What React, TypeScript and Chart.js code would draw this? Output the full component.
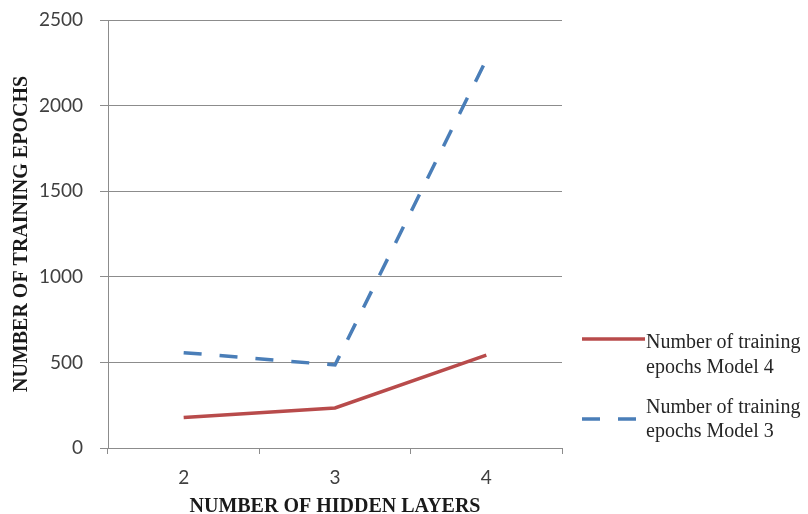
import React, { useEffect, useRef } from "react";
import { Chart, registerables } from "chart.js";

Chart.register(...registerables);

const categories = ["2", "3", "4"];
const model4Epochs = [178, 234, 543];
const model3Epochs = [557, 485, 2268];
const seriesLabels = [
  ["Number of training", "epochs Model 4"],
  ["Number of training", "epochs Model 3"],
];
const yTicks = [0, 500, 1000, 1500, 2000, 2500];

const RED = "#b84b4b";
const BLUE = "#4a7eb8";

const legendPlugin = {
  id: "sideLegend",
  afterDraw(chart: any) {
    const { ctx, chartArea } = chart;
    const x0 = chartArea.right + 20;
    const lineLen = 63;
    const items = [
      { ds: 0, lineY: 339, textY: [343, 368] },
      { ds: 1, lineY: 419, textY: [408, 432] },
    ];
    ctx.save();
    items.forEach((it) => {
      const ds = chart.data.datasets[it.ds];
      ctx.strokeStyle = ds.borderColor;
      ctx.lineWidth = ds.borderWidth;
      ctx.setLineDash(ds.borderDash || []);
      ctx.lineCap = "butt";
      ctx.beginPath();
      ctx.moveTo(x0, it.lineY);
      ctx.lineTo(x0 + lineLen, it.lineY);
      ctx.stroke();
      ctx.setLineDash([]);
      ctx.fillStyle = "#262626";
      ctx.font = "20px 'Liberation Serif'";
      ctx.textBaseline = "middle";
      ctx.textAlign = "left";
      const lines: string[] = ds.legendLines;
      lines.forEach((t, i) => ctx.fillText(t, x0 + lineLen + 1, it.textY[i]));
    });
    ctx.restore();
  },
};

export default function App() {
  const ref = useRef<HTMLCanvasElement | null>(null);
  useEffect(() => {
    if (!ref.current) return;
    const chart = new Chart(ref.current, {
      type: "line",
      data: {
        labels: categories,
        datasets: [
          {
            label: seriesLabels[0].join(" "),
            legendLines: seriesLabels[0],
            data: model4Epochs,
            borderColor: RED,
            borderWidth: 3.5,
            pointRadius: 0,
            tension: 0,
          } as any,
          {
            label: seriesLabels[1].join(" "),
            legendLines: seriesLabels[1],
            data: model3Epochs,
            borderColor: BLUE,
            borderWidth: 3.5,
            borderDash: [18, 18],
            pointRadius: 0,
            tension: 0,
          } as any,
        ],
      },
      options: {
        animation: false,
        responsive: false,
        layout: { padding: { top: 0, right: 246, left: 0, bottom: 0 } },
        plugins: { legend: { display: false }, tooltip: { enabled: false } },
        scales: {
          x: {
            offset: true,
            grid: {
              offset: true,
              drawOnChartArea: false,
              drawTicks: true,
              tickLength: 6,
              color: "#8c8c8c",
            },
            border: { color: "#8c8c8c" },
            ticks: {
              color: "#404040",
              font: { family: "Lato", size: 19 },
              padding: 12,
            },
            title: {
              display: true,
              text: "NUMBER OF HIDDEN LAYERS",
              color: "#1a1a1a",
              font: { family: "Liberation Serif", size: 20, weight: "bold" },
              padding: { top: 0, bottom: -5 },
            },
            afterFit(scale: any) {
              scale.height = 66;
            },
          },
          y: {
            min: 0,
            max: 2500,
            afterBuildTicks(scale: any) {
              scale.ticks = yTicks.map((v) => ({ value: v }));
            },
            grid: { color: "#8c8c8c", tickLength: 8 },
            border: { color: "#8c8c8c" },
            ticks: {
              color: "#404040",
              font: { family: "Lato", size: 19 },
              padding: 17,
              callback: (v: any) => String(v),
            },
            title: {
              display: true,
              text: "NUMBER OF TRAINING EPOCHS",
              color: "#1a1a1a",
              font: { family: "Liberation Serif", size: 20, weight: "bold" },
              padding: { top: 10, bottom: 0 },
            },
            afterFit(scale: any) {
              scale.width = 108;
              scale.paddingTop = 20;
            },
          },
        },
      } as any,
      plugins: [legendPlugin],
    });
    return () => chart.destroy();
  }, []);
  return (
    <div style={{ position: "fixed", left: 0, top: 0, width: 808, height: 514, background: "#fff" }}>
      <canvas ref={ref} width={808} height={514} />
    </div>
  );
}
